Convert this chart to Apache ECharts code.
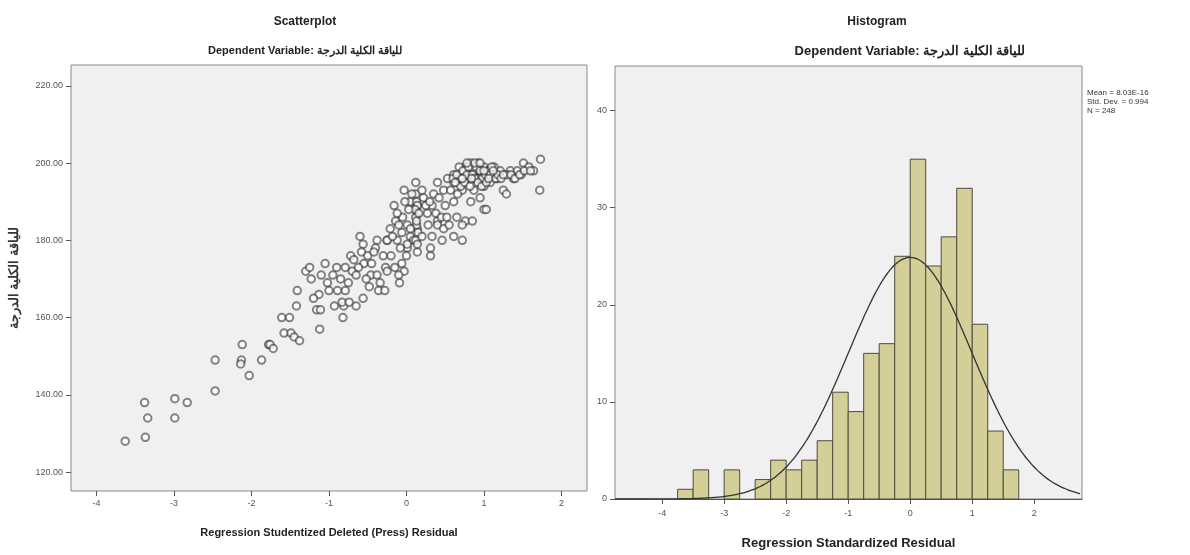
<!DOCTYPE html>
<html>
<head>
<meta charset="utf-8">
<script src="https://cdn.jsdelivr.net/npm/echarts@6/dist/echarts.min.js"></script>
<style>
  html, body { margin: 0; padding: 0; background: #fff; }
  #chart { width: 1190px; height: 555px; }
</style>
</head>
<body>
<div id="chart"></div>
<script>
  // scatter: studentized deleted residual vs total score
  var residX = [
    -3.63, -3.37, -3.34, -3.38, -2.99, -2.99, -2.83, -2.47, -2.47, -2.12, -2.13, -2.14, -2.03, -1.87, -1.78, -1.76, -1.72,
    -1.61, -1.51, -1.58, -1.49, -1.45, -1.38, -1.42, -1.16, -1.11, -1.12, -0.82, -0.93, -0.81, -0.65, -0.83, -0.74, -0.56,
    -0.60, -0.38, -0.25, -0.40, -0.56, -0.58, -0.72, -0.68, -0.55, -0.79, -0.70, -0.62, -1.30, -1.25, -1.23, -1.10, -0.95,
    -1.02, -1.41, -1.13, -1.20, -1.00, -0.89, -0.79, -0.46, -0.38, -0.27, -0.25, -0.34, -0.36, -0.28, -0.09, -0.06, -0.03,
    -0.12, 0.05, 0.01, 0.14, 0.31, 0.46, 0.31,
    1.73, 1.72, 1.51, 1.48, 1.25, 1.29, 1.00, 1.03, 0.76, 0.87, 0.95, 1.04, 1.13, 1.21, 1.34, 1.38, 0.83, 0.91, 0.78, 0.70,
    0.61, 0.53, 0.48, 0.72, 0.87, 0.95, 0.83, 0.61, 0.50, 0.40, 0.12, -0.03, 0.12, 0.35, 0.22, 0.05, -0.16, 0.14, 0.33, 0.14,
    0.27, 0.65, 0.76, 0.85, 0.72, 0.40, 0.40, 0.48, 0.61, 0.72, 0.14, 0.01, -0.14, -0.21, -0.25, -0.06, 0.09, 0.01,
    1.08, 1.00, 1.17, 1.13, 1.00, 0.93, 0.85, 0.72, 0.61, 1.30, 1.43, 1.58, 1.64,
    0.13, 0.14, 0.12, 0.13, 0.15, 0.12, 0.14, 0.13, 0.11, 0.16,
    -0.05, -0.10, 0.03, -0.02, 0.07, 0.20, 0.25, 0.28, -0.18, -0.08, 0.20, 0.33, 0.38, 0.45, 0.52, 0.55, 0.30, 0.05, -0.12, 0.42,
    0.60, 0.65, 0.68, 0.73, 0.78, 0.80, 0.85, 0.88, 0.90, 0.95, 0.98, 1.02, 1.05, 1.08, 1.10, 1.15, 1.18, 1.22, 0.70, 0.75,
    0.82, 0.92, 0.97, 1.03, 0.57, 0.66, 0.63, 1.25, 1.12, 0.88, 0.78, 0.95, 1.00, 0.84, 0.72, 1.06,
    1.35, 1.40, 1.46, 1.52, 1.60,
    -0.50, -0.45, -0.65, -0.52, -0.42, -0.30, -0.20, -0.15, -0.10, -0.48, -0.85, -0.90, -1.05, -0.75, 0.00
  ];
  var scoreY = [
    128, 129, 134, 138, 139, 134, 138, 149, 141, 153, 149, 148, 145, 149, 153, 153, 152,
    160, 160, 156, 156, 155, 154, 163, 162, 162, 157, 160, 163, 163, 163, 164, 164, 165,
    181, 180, 180, 178, 179, 177, 176, 175, 174, 173, 172, 173, 172, 173, 170, 171, 171,
    169, 167, 166, 165, 167, 167, 167, 171, 171, 173, 172, 169, 167, 167, 169, 174, 172,
    180, 181, 178, 177, 176, 180, 178,
    201, 193, 200, 197, 193, 192, 188, 188, 199, 198, 198, 196, 197, 198, 198, 196, 200, 196, 196, 196,
    195, 196, 193, 193, 193, 191, 190, 190, 189, 195, 195, 193, 192, 192, 191, 190, 189, 189, 189, 187,
    187, 186, 185, 185, 184, 185, 184, 183, 181, 180, 183, 184, 185, 183, 180, 182, 180, 179,
    195, 194, 196, 199, 199, 200, 199, 198, 197, 197, 198, 199, 198,
    190, 189, 186, 184, 182, 180, 179, 185, 188, 187,
    186, 184, 188, 190, 192, 193, 189, 184, 181, 178, 181, 181, 187, 186, 186, 184, 190, 183, 187, 191,
    196, 197, 199, 198, 197, 199, 197, 196, 199, 198, 196, 197, 198, 197, 199, 196, 197, 196, 194, 195,
    194, 195, 194, 195, 193, 192, 195, 197, 198, 200, 200, 200, 198, 196, 196, 196,
    197, 196, 197, 198, 198,
    176, 174, 171, 170, 177, 176, 176, 173, 171, 168, 170, 173, 174, 169, 176
  ];
  var scatterXTicks = [-4, -3, -2, -1, 0, 1, 2];
  var scatterYTicks = [120, 140, 160, 180, 200, 220];

  // histogram of standardized residuals
  var binStart = -3.75;
  var binWidth = 0.25;
  var histCounts = [1, 3, 0, 3, 0, 2, 4, 3, 4, 6, 11, 9, 15, 16, 25, 35, 24, 27, 32, 18, 7, 3];
  var histXTicks = [-4, -3, -2, -1, 0, 1, 2];
  var histYTicks = [0, 10, 20, 30, 40];
  var statMean = 8.03e-16, statSd = 0.994, statN = 248;
  var statLines = ['Mean = 8.03E-16', 'Std. Dev. = 0.994', 'N = 248'];

  var varName = 'للياقة الكلية الدرجة';
  var font = '"Liberation Sans", Arial, sans-serif';

  var scatterData = residX.map(function (x, i) { return [x, scoreY[i]]; });
  var barData = [];
  histCounts.forEach(function (c, i) {
    if (c > 0) barData.push([binStart + i * binWidth, binStart + (i + 1) * binWidth, c]);
  });

  var hxMin = -4.76, hxMax = 2.77;
  // fitted normal curve, scaled to counts per bin
  var curveData = [];
  for (var x = hxMin; x <= hxMax + 1e-9; x += 0.05) {
    var z = (x - statMean) / statSd;
    curveData.push([x, statN * binWidth * Math.exp(-0.5 * z * z) / (statSd * Math.sqrt(2 * Math.PI))]);
  }

  var tickLabel = { color: '#555', fontSize: 9, fontFamily: font };

  var myChart = echarts.init(document.getElementById('chart'));
  myChart.setOption({
    backgroundColor: '#fff',
    animation: false,
    title: [
      { text: 'Scatterplot', left: 300, top: 11, textAlign: 'center',
        textStyle: { fontSize: 12, fontWeight: 'bold', color: '#222', fontFamily: font } },
      { text: 'Dependent Variable: ' + varName, left: 300, top: 40, textAlign: 'center',
        textStyle: { fontSize: 11, fontWeight: 'bold', color: '#222', fontFamily: font } },
      { text: 'Histogram', left: 872, top: 11, textAlign: 'center',
        textStyle: { fontSize: 12, fontWeight: 'bold', color: '#222', fontFamily: font } },
      { text: 'Dependent Variable: ' + varName, left: 905, top: 40, textAlign: 'center',
        textStyle: { fontSize: 13, fontWeight: 'bold', color: '#222', fontFamily: font } }
    ],
    grid: [
      { left: 71, top: 65, width: 516, height: 426, show: true, backgroundColor: '#f0f0f0',
        borderColor: '#8a8a8a', borderWidth: 1 },
      { left: 615, top: 66, width: 467, height: 435, show: true, backgroundColor: '#f0f0f0',
        borderColor: '#8a8a8a', borderWidth: 1 }
    ],
    xAxis: [
      { gridIndex: 0, type: 'value', min: -4.33, max: 2.33, splitLine: { show: false },
        axisLine: { show: false, onZero: false },
        axisTick: { show: true, length: 5, customValues: scatterXTicks, lineStyle: { color: '#555' } },
        axisLabel: Object.assign({ margin: 8, customValues: scatterXTicks }, tickLabel),
        name: 'Regression Studentized Deleted (Press) Residual', nameLocation: 'middle', nameGap: 36,
        nameTextStyle: { fontSize: 11, fontWeight: 'bold', color: '#222', fontFamily: font } },
      { gridIndex: 1, type: 'value', min: hxMin, max: hxMax, splitLine: { show: false },
        axisLine: { show: true, onZero: false, lineStyle: { color: '#555' } },
        axisTick: { show: true, length: 5, customValues: histXTicks, lineStyle: { color: '#555' } },
        axisLabel: Object.assign({ margin: 10, customValues: histXTicks }, tickLabel),
        name: 'Regression Standardized Residual', nameLocation: 'middle', nameGap: 38,
        nameTextStyle: { fontSize: 13, fontWeight: 'bold', color: '#222', fontFamily: font } }
    ],
    yAxis: [
      { gridIndex: 0, type: 'value', min: 115.1, max: 225.4, splitLine: { show: false },
        axisLine: { show: false, onZero: false },
        axisTick: { show: true, length: 5, customValues: scatterYTicks, lineStyle: { color: '#555' } },
        axisLabel: Object.assign({ margin: 8, customValues: scatterYTicks,
          formatter: function (v) { return v.toFixed(2); } }, tickLabel),
        name: varName, nameLocation: 'middle', nameGap: 50, nameRotate: 90,
        nameTextStyle: { fontSize: 13, fontWeight: 'bold', color: '#333', fontFamily: font } },
      { gridIndex: 1, type: 'value', min: 0, max: 44.6, splitLine: { show: false },
        axisLine: { show: false, onZero: false },
        axisTick: { show: true, length: 5, customValues: histYTicks, lineStyle: { color: '#555' } },
        axisLabel: Object.assign({ margin: 8, customValues: histYTicks }, tickLabel) }
    ],
    graphic: [
      { type: 'text', left: 1087, top: 88,
        style: { text: statLines.join('\n'), fontSize: 8, lineHeight: 9, fill: '#333', fontFamily: font } }
    ],
    series: [
      { type: 'scatter', xAxisIndex: 0, yAxisIndex: 0, symbol: 'emptyCircle', symbolSize: 7.5,
        itemStyle: { color: 'rgba(40,40,40,0.7)', borderWidth: 0.9 },
        data: scatterData },
      { type: 'custom', xAxisIndex: 1, yAxisIndex: 1, data: barData,
        renderItem: function (params, api) {
          var p0 = api.coord([api.value(0), api.value(2)]);
          var p1 = api.coord([api.value(1), 0]);
          return { type: 'rect',
            shape: { x: p0[0], y: p0[1], width: p1[0] - p0[0], height: p1[1] - p0[1] },
            style: { fill: '#d4cf99', stroke: '#4e4c3c', lineWidth: 1 } };
        } },
      { type: 'line', xAxisIndex: 1, yAxisIndex: 1, data: curveData, showSymbol: false, smooth: true,
        lineStyle: { color: '#333', width: 1.3 }, z: 5 }
    ]
  });
</script>
</body>
</html>
